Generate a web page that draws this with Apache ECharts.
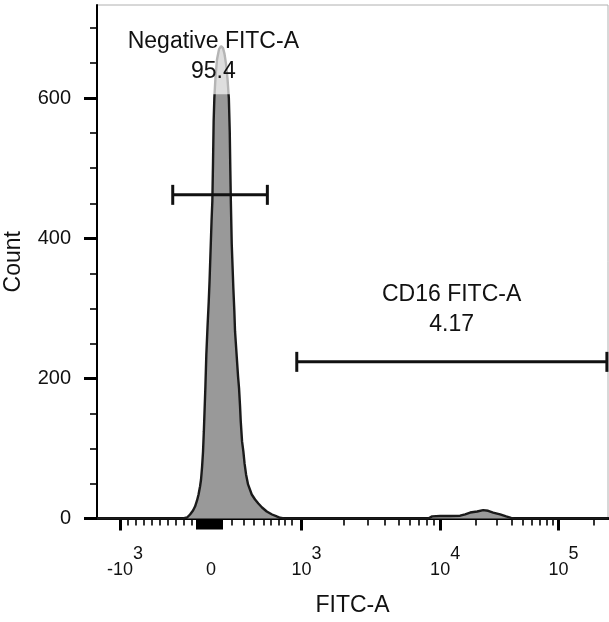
<!DOCTYPE html>
<html><head><meta charset="utf-8">
<script src="https://cdn.jsdelivr.net/npm/echarts@6/dist/echarts.min.js"></script>
<style>html,body{margin:0;padding:0;background:#fff}#c{width:609px;height:622px}</style>
</head><body><div id="c"></div>
<script>
// ---- Histogram: display channel (0..511) and event count ----
const histChannel = [0, 86, 90, 93, 96, 98, 100, 101.5, 103, 104, 105, 106, 106.8, 107.5, 108.3, 109.3, 110.5, 111.7, 112.5, 113.5, 114.5, 115.3, 116, 116.6, 117.3, 118.5, 120, 122, 124, 126, 127.5, 129, 130.5, 131.8, 132.7, 133.3, 133.8, 134.7, 135.5, 136.3, 137.3, 138, 139, 140, 141, 142, 143, 143.7, 145, 146.3, 147.5, 149, 151, 154.7, 158, 161.3, 165, 169.7, 175, 179.7, 183, 187, 331, 335, 343, 353, 363, 368, 373, 380, 386, 391, 396, 403, 409, 414, 417, 511];
const histCount = [0, 0, 1.4, 5.7, 11.4, 17.1, 25.7, 34.3, 45.7, 55.7, 72.9, 95.7, 124.3, 152.9, 185.7, 234.3, 274.3, 310, 338.6, 381.4, 424.3, 452.9, 510, 567, 600, 631.4, 655.7, 670, 674.3, 671.4, 662.9, 648.6, 627, 600, 552.9, 495.7, 452.9, 391.4, 360, 328.6, 295.7, 267, 245.7, 224.3, 202.9, 185.7, 160, 138.6, 110, 95.7, 78.6, 62.9, 48.6, 34.3, 27.1, 21.4, 15.7, 10, 5.7, 2.9, 1, 0, 0, 3, 3.5, 3.5, 4, 6, 8.5, 10, 12, 11, 8.5, 6, 3, 1, 0, 0];

// ---- Gates ----
const gateNames = ['Negative FITC-A', 'CD16 FITC-A'];
const gatePercents = ['95.4', '4.17'];
const gateFrom = [75.7, 199.7];
const gateTo = [170.3, 509.7];
const gateLevel = [462, 223.6];
const gateLabelChannel = [116.3, 354.5];
const gateLabelCount = [659, 298.6];

// ---- Axes ----
const xLabelValues = [-1000, 0, 1000, 10000, 100000];
const xLabelBase = ['-10', '0', '10', '10', '10'];
const xLabelExp = ['3', '', '3', '4', '5'];
const xMajorTicks = [-1000, 1000, 10000, 100000];
const xMinorTicks = [-900, -800, -700, -600, -500, -400, -300, -200, -100, 200, 300, 400, 500, 600, 700, 800, 900, 2000, 3000, 4000, 5000, 6000, 7000, 8000, 9000, 20000, 30000, 40000, 50000, 60000, 70000, 80000, 90000, 200000];
const xZeroTicks = [-90, -80, -70, -60, -50, -40, -30, -20, -10, 0, 10, 20, 30, 40, 50, 60, 70, 80, 90];
const yMajorTicks = [0, 200, 400, 600];
const yMinorTicks = [50, 100, 150, 250, 300, 350, 450, 500, 550, 650, 700];
const countMax = 733;
const fitcMin = -1280;
const fitcMax = 262144;

// biexponential-like display scale (FITC value -> display channel)
const linAnchorValue = [-1280, -1000, -100, -90, 0, 90, 200, 300, 400, 500, 600, 700, 800, 900, 1000];
const linAnchorChannel = [0, 23, 94.7, 100, 114, 125, 134.7, 146.3, 156.3, 166.3, 174, 181.3, 188, 194.7, 204.5];
const decadeValue = [1000, 10000, 100000];
const decadeChannel = [204.5, 343, 461.3];

function toChannel(v) {
  if (v <= 1000) {
    for (let i = 1; i < linAnchorValue.length; i++) {
      if (v <= linAnchorValue[i]) {
        const a = linAnchorValue[i - 1], b = linAnchorValue[i];
        const t = (v - a) / (b - a);
        return linAnchorChannel[i - 1] + t * (linAnchorChannel[i] - linAnchorChannel[i - 1]);
      }
    }
  }
  if (v <= 10000) return decadeChannel[0] + (decadeChannel[1] - decadeChannel[0]) * Math.log10(v / 1000);
  return decadeChannel[1] + (decadeChannel[2] - decadeChannel[1]) * Math.log10(v / 10000);
}

const FONT = '"Liberation Sans", Arial, sans-serif';
const chMin = toChannel(fitcMin), chMax = toChannel(fitcMax);
const labelChannels = xLabelValues.map(toChannel);

function xLabelFmt(val) {
  let idx = 0, best = 1e9;
  labelChannels.forEach((c, i) => { const d = Math.abs(c - val); if (d < best) { best = d; idx = i; } });
  const e = xLabelExp[idx];
  if (!e) return '{b|' + xLabelBase[idx] + '}';
  return '{p|' + e + '}{b|' + xLabelBase[idx] + '}{s|' + e + '}';
}

const baseX = {
  type: 'value', min: chMin, max: chMax, gridIndex: 0, position: 'bottom',
  splitLine: { show: false }, axisLabel: { show: false }, axisLine: { show: false }
};

const chart = echarts.init(document.getElementById('c'), null, { renderer: 'canvas' });
chart.setOption({
  backgroundColor: '#fff',
  animation: false,
  grid: { left: 97, right: 1, top: 5, bottom: 103.5, show: true, borderColor: '#b0b0b0', borderWidth: 1, backgroundColor: 'transparent', containLabel: false, outerBoundsMode: 'none' },
  xAxis: [
    Object.assign({}, baseX, {
      name: 'FITC-A', nameLocation: 'middle', nameGap: 76,
      nameTextStyle: { fontFamily: FONT, fontSize: 23, color: '#111' },
      axisLine: { show: true, lineStyle: { color: '#000', width: 3 } },
      axisTick: { show: true, length: 12, lineStyle: { color: '#000', width: 3 }, customValues: xMajorTicks.map(toChannel) },
      axisLabel: {
        show: true, margin: 27, customValues: labelChannels, formatter: xLabelFmt,
        rich: {
          b: { fontFamily: FONT, fontSize: 18, color: '#111', padding: [16, 0, 0, 0] },
          s: { fontFamily: FONT, fontSize: 18, color: '#111', padding: [0, 0, 16, 0] },
          p: { fontFamily: FONT, fontSize: 18, color: 'rgba(0,0,0,0)', padding: [0, 0, 16, 0] }
        }
      }
    }),
    Object.assign({}, baseX, {
      axisTick: { show: true, length: 7, lineStyle: { color: '#000', width: 1.6 }, customValues: xMinorTicks.map(toChannel) }
    }),
    Object.assign({}, baseX, {
      axisTick: { show: true, length: 11, lineStyle: { color: '#000', width: 2 }, customValues: xZeroTicks.map(toChannel) }
    })
  ],
  yAxis: [
    {
      type: 'value', min: 0, max: countMax, gridIndex: 0,
      name: 'Count', nameLocation: 'middle', nameGap: 72,
      nameTextStyle: { fontFamily: FONT, fontSize: 23, color: '#111' },
      splitLine: { show: false },
      axisLine: { show: true, lineStyle: { color: '#000', width: 2 } },
      axisTick: { show: true, length: 13, lineStyle: { color: '#000', width: 3 }, customValues: yMajorTicks },
      axisLabel: { show: true, margin: 26, customValues: yMajorTicks, fontFamily: FONT, fontSize: 20, color: '#111' }
    },
    {
      type: 'value', min: 0, max: countMax, gridIndex: 0, position: 'left',
      splitLine: { show: false }, axisLine: { show: false }, axisLabel: { show: false },
      axisTick: { show: true, length: 7, lineStyle: { color: '#000', width: 1.6 }, customValues: yMinorTicks }
    }
  ],
  series: [
    {
      type: 'line', xAxisIndex: 0, yAxisIndex: 0, z: 2,
      data: histChannel.map((c, i) => [c, histCount[i]]),
      symbol: 'none', smooth: false,
      lineStyle: { color: '#1a1a1a', width: 2.4 },
      areaStyle: { color: '#999999', opacity: 1 }
    },
    {
      type: 'custom', coordinateSystem: 'cartesian2d', xAxisIndex: 0, yAxisIndex: 0, z: 10,
      data: gateNames.map((n, i) => [gateFrom[i], gateLevel[i], gateTo[i], gateLabelChannel[i], gateLabelCount[i], i]),
      renderItem: function (params, api) {
        const i = api.value(5);
        const a = api.coord([api.value(0), api.value(1)]);
        const b = api.coord([api.value(2), api.value(1)]);
        const t = api.coord([api.value(3), api.value(4)]);
        const st = { stroke: '#111', lineWidth: 3 };
        return {
          type: 'group', children: [
            { type: 'line', shape: { x1: a[0], y1: a[1], x2: b[0], y2: b[1] }, style: st },
            { type: 'line', shape: { x1: a[0], y1: a[1] - 10, x2: a[0], y2: a[1] + 10 }, style: st },
            { type: 'line', shape: { x1: b[0], y1: b[1] - 10, x2: b[0], y2: b[1] + 10 }, style: st },
            {
              type: 'text', x: t[0], y: t[1],
              style: {
                text: gateNames[i] + '\n' + gatePercents[i],
                align: 'center', verticalAlign: 'middle',
                fontFamily: FONT, fontSize: 23, lineHeight: 30, fill: '#111',
                backgroundColor: 'rgba(255,255,255,0.68)', padding: [6, 4, 9, 4]
              }
            }
          ]
        };
      }
    }
  ]
});
</script>
</body></html>
